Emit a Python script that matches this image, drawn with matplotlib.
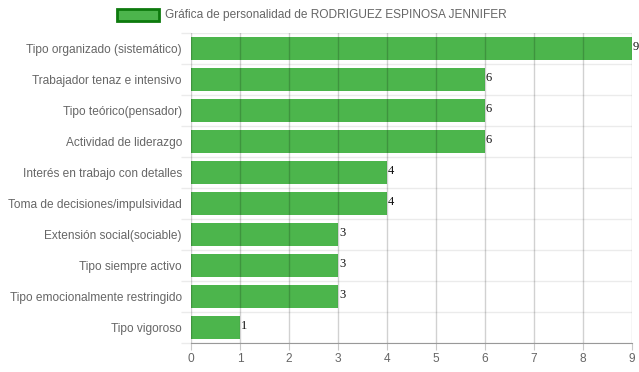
import numpy as np
import matplotlib.pyplot as plt

categorias = ['Tipo organizado (sistemático)', 'Trabajador tenaz e intensivo',
              'Tipo teórico(pensador)', 'Actividad de liderazgo',
              'Interés en trabajo con detalles', 'Toma de decisiones/impulsividad',
              'Extensión social(sociable)', 'Tipo siempre activo',
              'Tipo emocionalmente restringido', 'Tipo vigoroso']
valores = [9, 6, 6, 6, 4, 4, 3, 3, 3, 1]
titulo = 'Gráfica de personalidad de RODRIGUEZ ESPINOSA JENNIFER'

plt.rcParams['font.family'] = ['Liberation Sans', 'DejaVu Sans']

fig = plt.figure(figsize=(6.39, 3.72), dpi=100)
ax = fig.add_axes([191 / 639, 1 - 343 / 372, 441 / 639, 310 / 372])

y = np.arange(len(categorias))
barras = ax.barh(y, valores, height=0.75, color='#4cb54c', zorder=1)

ax.set_xlim(0, 9)
ax.set_ylim(len(categorias) - 0.5, -0.5)

# rejilla vertical por encima de las barras
ax.set_xticks(range(0, 10))
for xv in range(0, 10):
    ax.axvline(xv, color='#000000', alpha=0.18, lw=1, zorder=3)

# separadores horizontales entre categorías
ax.set_yticks(y)
ax.set_yticklabels(categorias)
ax.set_yticks(np.arange(-0.5, len(categorias)), minor=True)
ax.grid(axis='y', which='minor', color='#ebebeb', lw=1, zorder=0)
ax.tick_params(axis='y', which='major', length=0, pad=6.5, labelsize=8.6, labelcolor='#666666')
ax.tick_params(axis='y', which='minor', length=7, color='#ebebeb', width=1)
ax.tick_params(axis='x', length=5, color='#c8c8c8', labelsize=8.6, labelcolor='#666666', pad=2)

for s in ['top', 'right', 'left']:
    ax.spines[s].set_visible(False)
ax.spines['bottom'].set_color('#999999')

for b, v in zip(barras, valores):
    ax.text(b.get_width() + 0.02, b.get_y() + b.get_height() / 2 - 0.05, str(v),
            family='Liberation Serif', fontsize=9, color='#111111',
            ha='left', va='center', zorder=4, clip_on=False)

# leyenda
fig.patches.append(plt.Rectangle((117 / 639, 1 - 21 / 372), 42 / 639, 12 / 372,
                                 transform=fig.transFigure, facecolor='#4cb54c',
                                 edgecolor='#0d7a0d', lw=2, figure=fig))
fig.text(165 / 639, 1 - 15 / 372, titulo, fontsize=8.6, color='#666666',
         ha='left', va='center')

fig.savefig('out.png', dpi=100)
